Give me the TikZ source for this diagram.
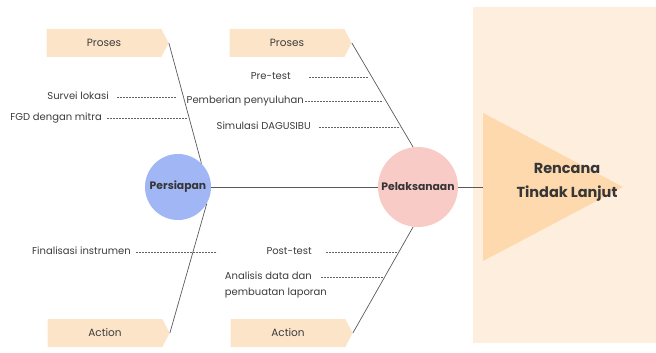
\documentclass[tikz,border=0pt]{standalone}
\usepackage{fontspec}
\setmainfont{Poppins}
\usetikzlibrary{shapes.symbols,positioning}

\definecolor{peach}{HTML}{FCE4C8}
\definecolor{panelbg}{HTML}{FDEEDE}
\definecolor{trifill}{HTML}{FDD9AD}
\definecolor{bluecirc}{HTML}{A0B6F5}
\definecolor{pinkcirc}{HTML}{F9CBC6}
\definecolor{ink}{HTML}{3C3C3C}

\begin{document}
\begin{tikzpicture}[x=1pt,y=-1pt,
    bone/.style={draw=ink!85,line width=0.7pt},
    dashline/.style={draw=ink!80,line width=0.45pt,dash pattern=on 2pt off 1pt}]
\useasboundingbox (0,0) rectangle (656,353);

% background panel and head
\fill[panelbg] (473,7) rectangle (656,343);
\fill[trifill] (483,113) -- (623,187) -- (483,261) -- cycle;
\coordinate (head) at (483,187);
\node[font=\bfseries\fontsize{14.5}{24}\selectfont,text=ink!90!black,align=center] (rtl) at (567,182) {Rencana\\Tindak Lanjut};

\begin{scope}[every node/.style={signal,signal to=east,signal pointer angle=125,fill=peach,
        minimum width=122,minimum height=28,inner sep=0pt,text=ink,font=\fontsize{10.5}{12}\selectfont}]
    \node (prosesA) at (104,43) {Proses};
    \node (prosesB) at (287,43) {Proses};
    \node (actionA) at (105,333) {Action};
    \node (actionB) at (288,333) {Action};
\end{scope}

\begin{scope}[every node/.style={circle,inner sep=0pt,text=ink!90!black,font=\bfseries\fontsize{10.8}{12}\selectfont}]
    \node[fill=bluecirc,minimum size=66] (persiapan) at (178,187) {Persiapan};
    \node[fill=pinkcirc,minimum size=80] (pelaksanaan) at (418,187) {Pelaksanaan};
\end{scope}

% spine
\draw[bone] (persiapan) -- (pelaksanaan);
\draw[bone] (pelaksanaan) -- (head);

% bones
\draw[bone] (prosesA.east) -- (persiapan.45);
\draw[bone] (prosesB.east) -- (pelaksanaan.97);
\draw[bone] (actionA.east) -- (persiapan.-30);
\draw[bone] (actionB.east) -- (pelaksanaan.-97);

% causes
\begin{scope}[every node/.style={anchor=east,inner sep=1pt,text=ink,text height=7pt,text depth=2pt,
        font=\fontsize{10}{12}\selectfont}]
    \node (survei) at (110,97) {Survei lokasi};
    \node (fgd) at (103,118) {FGD dengan mitra};
    \node (pretest) at (292,77) {Pre-test};
    \node (penyuluhan) at (305,101) {Pemberian penyuluhan};
    \node (simulasi) at (312,127) {Simulasi DAGUSIBU};
    \node (finalisasi) at (132,252) {Finalisasi instrumen};
    \node (posttest) at (313,252) {Post-test};
    \node (analisis) at (313,277) {Analisis data dan};
    \node[anchor=north west] (laporan) at ([yshift=-5pt]analisis.south west) {pembuatan laporan};
\end{scope}

\coordinate (surveiEnd) at (176,97);
\coordinate (fgdEnd) at (187,118);
\coordinate (pretestEnd) at (368,77);
\coordinate (penyuluhanEnd) at (383,101);
\coordinate (simulasiEnd) at (400,127);
\coordinate (finalisasiEnd) at (217,252);
\coordinate (posttestEnd) at (399,252);
\coordinate (analisisEnd) at (384,277);

\draw[dashline,shorten <=7pt] (survei) -- (surveiEnd);
\draw[dashline,shorten <=4pt] (fgd) -- (fgdEnd);
\draw[dashline,shorten <=17pt] (pretest) -- (pretestEnd);
\draw[dashline] (penyuluhan) -- (penyuluhanEnd);
\draw[dashline,shorten <=7pt] (simulasi) -- (simulasiEnd);
\draw[dashline,shorten <=4pt] (finalisasi) -- (finalisasiEnd);
\draw[dashline,shorten <=13pt] (posttest) -- (posttestEnd);
\draw[dashline,shorten <=8pt] (analisis) -- (analisisEnd);
\end{tikzpicture}
\end{document}
